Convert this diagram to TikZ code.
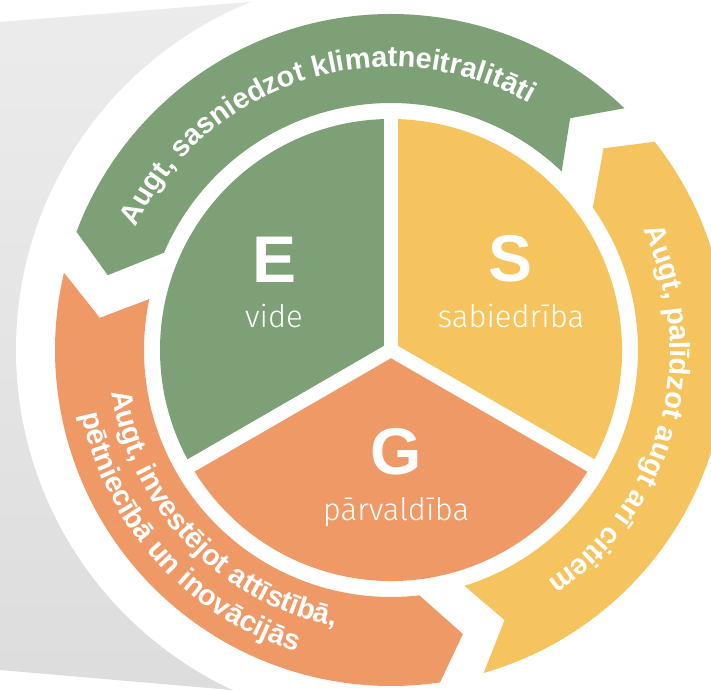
\documentclass[tikz,border=0pt]{standalone}
\usepackage{fontspec}
\setmainfont{Liberation Sans}
\newfontfamily\lightfont{Fira Sans Light}
\usetikzlibrary{decorations.text}
\usetikzlibrary{positioning}

\definecolor{envgreen}{HTML}{7DA077}
\definecolor{socyellow}{HTML}{F6C45E}
\definecolor{govorange}{HTML}{EF9966}

\begin{document}
\begin{tikzpicture}[x = 1pt, y = 1pt,
  letter/.style = {white, font = \bfseries\fontsize{66}{66}\selectfont, anchor = base, inner sep = 0pt},
  word/.style = {white, font = \lightfont\fontsize{31}{31}\selectfont, anchor = base, inner sep = 0pt},
  ringtext/.style = {decorate, decoration = {text along path, text align = center, text color = white,
    text = {|\bfseries\fontsize{29}{29}\selectfont|#1}}}]
\useasboundingbox (-391, -340) rectangle (320, 350);
% grey backdrop and white disc
\shade[top color = gray!15, bottom color = gray!27] (-391, 328) -- (-116, 350) -- (0, 0) -- (-136, -342) -- (-391, -320) -- cycle;
\fill[white] (0, 0) circle [radius = 375pt];
% outer arrows
\fill[envgreen] (46:336) arc [start angle = 46, end angle = 159.4, radius = 336pt] -- (165.2:293) -- (156.8:247)
  arc [start angle = 156.8, end angle = 46.3, radius = 247pt] -- (52.3:293) -- cycle;
\fill[govorange] (166.7:336) arc [start angle = 166.7, end angle = 278.4, radius = 336pt] -- (284.2:293) -- (276.6:247)
  arc [start angle = 276.6, end angle = 168.1, radius = 247pt] -- (173.7:293) -- cycle;
\fill[socyellow] (-74:336) arc [start angle = -74, end angle = 38.3, radius = 336pt] -- (43.5:293) -- (35.2:247)
  arc [start angle = 35.2, end angle = -72.7, radius = 247pt] -- (-67.2:293) -- cycle;
\path[ringtext = {Augt, sasniedzot klimatneitralitāti}] (175:283) arc [start angle = 175, end angle = 40, radius = 283pt];
\path[ringtext = {Augt, palīdzot augt arī citiem}] (40:279) arc [start angle = 40, end angle = -70.4, radius = 279pt];
\path[ringtext = {Augt, investējot attīstībā,}] (165:282) arc [start angle = 165, end angle = 282.2, radius = 282pt];
\path[ringtext = {pētniecībā un inovācijās}] (165:316) arc [start angle = 165, end angle = 279.4, radius = 316pt];
% inner pie
\fill[envgreen] (0, 0) -- (90:231) arc [start angle = 90, end angle = 210, radius = 231pt] -- cycle;
\fill[govorange] (0, 0) -- (210:231) arc [start angle = 210, end angle = 330, radius = 231pt] -- cycle;
\fill[socyellow] (0, 0) -- (-30:231) arc [start angle = -30, end angle = 90, radius = 231pt] -- cycle;
\foreach \a in {90, 210, 330} \draw[white, line width = 14pt] (0, 0) -- (\a:240);
\node[letter] (e) at (-116, 67) {E};
\node[word] (vide) at (-117, 22) {vide};
\node[letter] (s) at (120, 68) {S};
\node[word] (sabiedriba) at (120, 22) {sabiedrība};
\node[letter] (g) at (5, -124) {G};
\node[word] (parvaldiba) at (5, -170) {pārvaldība};
\end{tikzpicture}
\end{document}
